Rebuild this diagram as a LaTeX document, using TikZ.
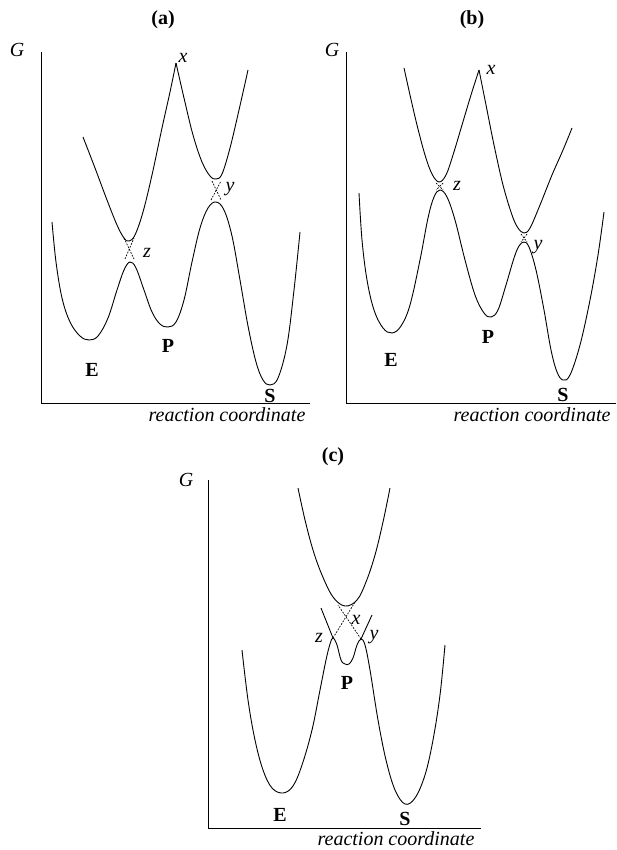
\documentclass[tikz,border=0pt]{standalone}
\usepackage{fontspec}
\setmainfont{Liberation Serif}
\usetikzlibrary{positioning}

\tikzset{
  curve/.style={line width=0.9pt},
  axisline/.style={line width=1pt},
  crossline/.style={line width=0.7pt,dash pattern=on 1.8pt off 1.3pt},
  lbl/.style={font=\fontsize{20}{22}\selectfont\itshape,inner sep=0pt},
  state/.style={font=\fontsize{20}{22}\selectfont\bfseries,inner sep=0pt},
  ttl/.style={font=\fontsize{20}{22}\selectfont\bfseries,inner sep=0pt}
}

\begin{document}
\begin{tikzpicture}[x=1pt,y=-1pt]
\useasboundingbox (0,0) rectangle (616,850);

% (a)
\node[ttl] (ttlA) at (163,20) {(a)};
\node[lbl] (GA) at (17,50) {G};
\draw[axisline] (41,52) -- (41,403) -- (310,403);
\node[lbl] (rcA) at (227,415) {reaction coordinate};
\draw[curve] plot[smooth,tension=0.6] coordinates {(52,222) (56,262) (62,298) (70,322) (80,336) (89,340) (98,336) (108,318) (117,290) (124,270) (130,262) (136,268) (144,290) (152,312) (160,324) (168,327) (176,322) (184,300) (192,262) (200,228) (208,208) (216,202) (224,210) (232,236) (240,280) (248,326) (256,362) (263,380) (270,385) (278,378) (287,345) (294,290) (300,232)};
\draw[curve] plot[smooth,tension=0.6] coordinates {(83,137) (95,168) (107,200) (117,225) (124,238) (129,241) (135,235) (143,212) (152,175) (162,128) (170,92) (176,63)};
\draw[curve] plot[smooth,tension=0.6] coordinates {(176,63) (184,98) (193,135) (202,162) (210,176) (216,179) (222,174) (230,148) (239,110) (248,70)};
\draw[crossline] (125,259) -- (134,238);
\draw[crossline] (124,238) -- (134,259);
\draw[crossline] (211,200) -- (221,181);
\draw[crossline] (212,181) -- (221,200);
\node[lbl] (xA) at (183,58) {x};
\node[lbl] (yA) at (230,189) {y};
\node[lbl] (zA) at (147,253) {z};
\node[state] (EA) at (92,370) {E};
\node[state] (PA) at (168,346) {P};
\node[state] (SA) at (270,396) {S};

% (b)
\node[ttl] (ttlB) at (472,20) {(b)};
\node[lbl] (GB) at (332,50) {G};
\draw[axisline] (346,52) -- (346,403) -- (616,403);
\node[lbl] (rcB) at (532,415) {reaction coordinate};
\draw[curve] plot[smooth,tension=0.6] coordinates {(359,193) (362,240) (367,280) (374,310) (383,328) (392,333) (401,326) (410,305) (420,260) (428,218) (434,197) (440,190) (447,197) (455,220) (465,260) (475,295) (484,313) (491,317) (498,310) (506,285) (514,258) (519,246) (524,242) (529,247) (536,270) (544,310) (551,350) (557,372) (563,380) (570,375) (580,345) (590,300) (598,255) (604,212)};
\draw[curve] plot[smooth,tension=0.6] coordinates {(404,68) (410,95) (417,125) (425,155) (432,174) (439,182) (446,175) (453,155) (462,125) (471,95) (479,70)};
\draw[curve] plot[smooth,tension=0.6] coordinates {(479,70) (486,105) (494,145) (503,185) (512,215) (518,228) (524,233) (530,228) (540,205) (552,175) (563,150) (572,128)};
\draw[crossline] (436,183) -- (443,190);
\draw[crossline] (443,183) -- (436,190);
\draw[crossline] (521,234) -- (527,242);
\draw[crossline] (527,234) -- (521,242);
\node[lbl] (xB) at (491,70) {x};
\node[lbl] (yB) at (538,247) {y};
\node[lbl] (zB) at (457,186) {z};
\node[state] (EB) at (391,360) {E};
\node[state] (PB) at (488,337) {P};
\node[state] (SB) at (563,395) {S};

% (c)
\node[ttl] (ttlC) at (333,457) {(c)};
\node[lbl] (GC) at (186,480) {G};
\draw[axisline] (208,480) -- (208,828) -- (481,828);
\node[lbl] (rcC) at (396,839) {reaction coordinate};
\draw[curve] plot[smooth,tension=0.6] coordinates {(298,488) (305,520) (313,550) (322,575) (333,597) (345,606) (357,600) (366,582) (375,555) (383,522) (390,488)};
\draw[curve] plot[smooth,tension=0.6] coordinates {(242,650) (248,700) (255,740) (263,770) (272,788) (283,793) (293,786) (302,765) (312,730) (320,690) (326,660) (330,644) (333,638) (337,645) (341,660) (345,664) (349,664) (353,658) (357,645) (361,639) (365,645) (370,670) (378,720) (386,760) (395,790) (405,804) (415,798) (425,775) (433,740) (440,695) (445,645)};
\coordinate (zC) at (333,638);
\coordinate (yC) at (361,639);
\draw[curve] (zC) -- (321,608);
\draw[curve] (yC) -- (372,615);
\draw[crossline] (zC) -- (355,602);
\draw[crossline] (yC) -- (338,605);
\node[lbl] (xlC) at (356,620) {x};
\node[lbl] (zlC) at (319,638) {z};
\node[lbl] (ylC) at (374,637) {y};
\node[state] (EC) at (280,815) {E};
\node[state] (PC) at (347,683) {P};
\node[state] (SC) at (405,819) {S};
\end{tikzpicture}
\end{document}
